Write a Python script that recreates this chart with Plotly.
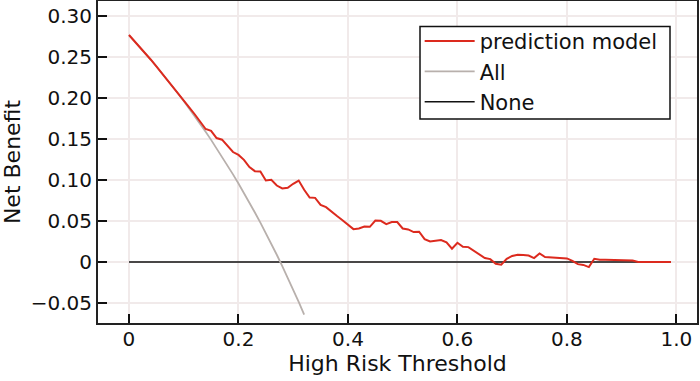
import plotly.graph_objects as go

thresholds = [round(i * 0.01, 2) for i in range(100)]

model_nb = [
    0.2765, 0.2692, 0.2617, 0.2541, 0.2464, 0.2384, 0.2303, 0.2222, 0.2138, 0.2055,
    0.1975, 0.1885, 0.1800, 0.1705, 0.1620, 0.1597, 0.1510, 0.1490, 0.1415, 0.1340,
    0.1305, 0.1245, 0.1156, 0.1107, 0.1102, 0.0993, 0.1001, 0.0932, 0.0896, 0.0904,
    0.0953, 0.0993, 0.0880, 0.0786, 0.0782, 0.0697, 0.0669, 0.0610, 0.0560, 0.0510,
    0.0455, 0.0401, 0.0409, 0.0433, 0.0429, 0.0506, 0.0502, 0.0462, 0.0487, 0.0487,
    0.0409, 0.0397, 0.0365, 0.0369, 0.0280, 0.0251, 0.0259, 0.0268, 0.0239, 0.0162,
    0.0235, 0.0186, 0.0182, 0.0141, 0.0097, 0.0049, 0.0036, -0.0020, -0.0033, 0.0040,
    0.0075, 0.0090, 0.0085, 0.0080, 0.0049, 0.0105, 0.0062, 0.0058, 0.0054, 0.0050,
    0.0044, 0.0015, -0.0025, -0.0035, -0.0061, 0.0040, 0.0028, 0.0027, 0.0025, 0.0024,
    0.0022, 0.0021, 0.0019, 0.0, 0.0, 0.0, 0.0, 0.0, 0.0, 0.0,
]

all_thresholds = thresholds[:33]
all_nb = [
    0.2765, 0.2692, 0.2617, 0.2541, 0.2464, 0.2384, 0.2303, 0.2220, 0.2136, 0.2049,
    0.1961, 0.1871, 0.1778, 0.1684, 0.1587, 0.1488, 0.1387, 0.1283, 0.1177, 0.1068,
    0.0956, 0.0842, 0.0724, 0.0604, 0.0480, 0.0353, 0.0223, 0.0089, -0.0049, -0.0190,
    -0.0336, -0.0486, -0.0640,
]

none_thresholds = [0.0, 0.99]
none_nb = [0.0, 0.0]

x_tickvals = [0, 0.2, 0.4, 0.6, 0.8, 1.0]
x_ticktext = ["0", "0.2", "0.4", "0.6", "0.8", "1.0"]
y_tickvals = [-0.05, 0, 0.05, 0.10, 0.15, 0.20, 0.25, 0.30]
y_ticktext = ["\u22120.05", "0", "0.05", "0.10", "0.15", "0.20", "0.25", "0.30"]

FONT = "DejaVu Sans"

fig = go.Figure()
fig.add_trace(go.Scatter(x=none_thresholds, y=none_nb, mode="lines", name="None",
                         line=dict(color="#111111", width=1.6)))
fig.add_trace(go.Scatter(x=all_thresholds, y=all_nb, mode="lines", name="All",
                         line=dict(color="#b8b0ac", width=1.8)))
fig.add_trace(go.Scatter(x=thresholds, y=model_nb, mode="lines", name="prediction model",
                         line=dict(color="#dc2a1e", width=2)))

# legend frame (px 420..670 x, 26.7..119 y) expressed in paper coordinates
L, T, W, H = 98, 1, 599, 322
fig.add_shape(type="rect", xref="paper", yref="paper", layer="above",
              x0=(420 - L) / W, x1=(670 - L) / W,
              y0=1 - (119 - T) / H, y1=1 - (26.5 - T) / H,
              line=dict(color="#111111", width=1.5), fillcolor="white")

fig.update_layout(
    width=700, height=381,
    margin=dict(l=98, r=3, t=1, b=58, autoexpand=False),
    paper_bgcolor="white", plot_bgcolor="white",
    font=dict(family=FONT, size=20, color="#111111"),
    showlegend=True,
    legend=dict(
        x=0.537, y=0.938, xanchor="left", yanchor="top",
        bgcolor="rgba(0,0,0,0)", borderwidth=0,
        font=dict(family=FONT, size=21, color="#111111"),
        traceorder="reversed", itemwidth=50, tracegroupgap=0,
    ),
    xaxis=dict(
        range=[-0.0566, 1.0376], tickvals=x_tickvals, ticktext=x_ticktext,
        ticks="inside", ticklen=9, tickwidth=1.5, tickcolor="#111111",
        showline=True, linecolor="#222222", linewidth=2, mirror=True,
        showgrid=True, gridcolor="#f1eaea", gridwidth=1.5, zeroline=False,
        tickfont=dict(family=FONT, size=20, color="#111111"),
        ticklabelstandoff=-3, automargin=False,
        title=dict(text="High Risk Threshold", font=dict(family=FONT, size=22, color="#111111"), standoff=5),
    ),
    yaxis=dict(
        range=[-0.0742, 0.3179], tickvals=y_tickvals, ticktext=y_ticktext,
        ticks="inside", ticklen=9, tickwidth=1.5, tickcolor="#111111",
        showline=True, linecolor="#222222", linewidth=2, mirror=True,
        showgrid=True, gridcolor="#f1eaea", gridwidth=1.5, zeroline=False,
        tickfont=dict(family=FONT, size=20, color="#111111"), automargin=False,
        title=dict(text="Net Benefit", font=dict(family=FONT, size=22, color="#111111"), standoff=20),
    ),
)

fig.write_html("out.html", config={"displayModeBar": False},
               post_script="document.body.style.margin='0';")
